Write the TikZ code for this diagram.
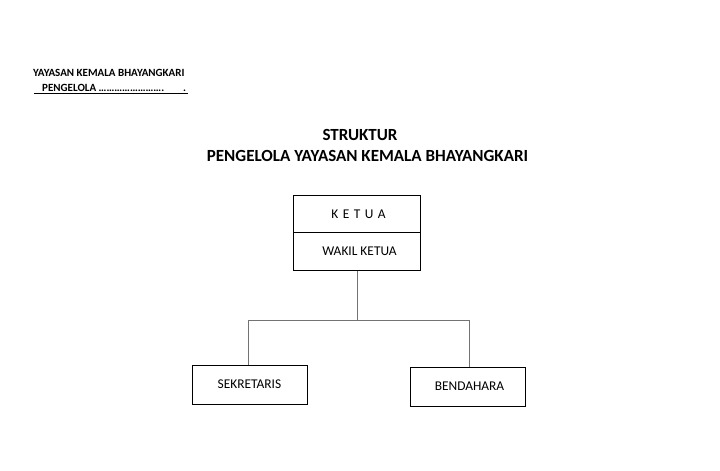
\documentclass[tikz,border=0pt]{standalone}
\usepackage{fontspec}
\setmainfont{Carlito}
\begin{document}
\begin{tikzpicture}[x=1pt,y=-1pt,
  box/.style={draw=black,line width=0.9pt,minimum width=127pt,minimum height=37.5pt,inner sep=0pt,font=\fontsize{13.4}{15}\selectfont},
  sbox/.style={draw=black,line width=0.9pt,minimum width=115pt,minimum height=39pt,inner sep=0pt,font=\fontsize{13.4}{15}\selectfont},
  conn/.style={draw=black!55,line width=0.8pt}]
\useasboundingbox (0,0) rectangle (720,471);
\node[anchor=west,inner sep=0pt,font=\bfseries\fontsize{11}{12}\selectfont] (hdr1) at (33,73) {YAYASAN KEMALA BHAYANGKARI};
\node[anchor=west,inner sep=0pt,font=\bfseries\fontsize{11}{12}\selectfont] (hdr2) at (42,88) {PENGELOLA …………………….\hspace{19pt}.};
\coordinate (ul1) at (34,93.5);
\coordinate (ul2) at (188,93.5);
\draw[line width=0.5pt] (ul1) -- (ul2);
\node[font=\bfseries\fontsize{17}{19}\selectfont,inner sep=0pt] (t1) at (360,135) {STRUKTUR};
\node[font=\bfseries\fontsize{17}{19}\selectfont,inner sep=0pt] (t2) at (367.5,156) {PENGELOLA YAYASAN KEMALA BHAYANGKARI};
\node[box] (ketua) at (356.5,214) {\hspace{4pt}K\,\,E\,\,T\,\,U\,\,A};
\node[box] (wakil) at (356.5,251.5) {\raisebox{-1.5pt}{\hspace{6pt}WAKIL KETUA}};
\node[sbox] (sek) at (249.5,384.5) {\raisebox{-1pt}{SEKRETARIS}};
\node[sbox] (ben) at (468,386.5) {\hspace{3pt}BENDAHARA};
\coordinate (j) at (357,320);
\coordinate (jl) at (248,320);
\coordinate (jr) at (469,320);
\draw[conn] (wakil.south -| j) -- (j);
\draw[conn] (jl) -- (jr);
\draw[conn] (jl) -- (sek.north -| jl);
\draw[conn] (jr) -- (ben.north -| jr);
\end{tikzpicture}
\end{document}
